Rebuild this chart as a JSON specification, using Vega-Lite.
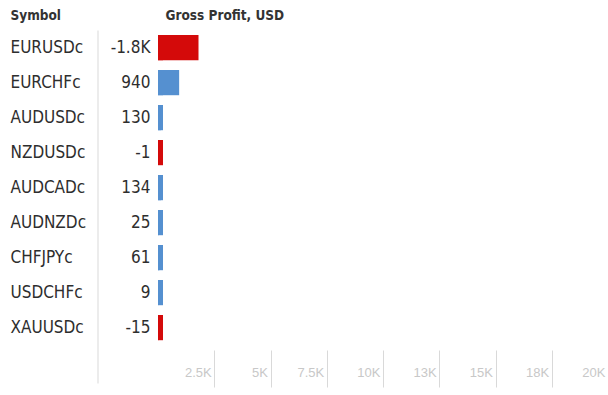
{
  "$schema": "https://vega.github.io/schema/vega-lite/v6.json",
  "autosize": {"type": "none"},
  "padding": {"left": 158, "top": 30, "right": 0, "bottom": 12},
  "width": 450,
  "height": 353,
  "background": "white",
  "config": {"view": {"stroke": null}, "font": "DejaVu Sans Condensed"},
  "data": {
    "values": [
      {"symbol": "EURUSDc", "profit": -1800},
      {"symbol": "EURCHFc", "profit": 940},
      {"symbol": "AUDUSDc", "profit": 130},
      {"symbol": "NZDUSDc", "profit": -1},
      {"symbol": "AUDCADc", "profit": 134},
      {"symbol": "AUDNZDc", "profit": 25},
      {"symbol": "CHFJPYc", "profit": 61},
      {"symbol": "USDCHFc", "profit": 9},
      {"symbol": "XAUUSDc", "profit": -15}
    ]
  },
  "transform": [
    {"calculate": "abs(datum.profit)", "as": "size"},
    {"calculate": "replace(replace(abs(datum.profit) >= 1000 ? format(datum.profit, '.2~s') : format(datum.profit, 'd'), 'k', 'K'), '\u2212', '-')", "as": "label"}
  ],
  "encoding": {
    "y": {
      "field": "symbol",
      "type": "nominal",
      "sort": null,
      "scale": {"paddingInner": 0.28, "paddingOuter": 0.683, "align": 0.105},
      "axis": {
        "orient": "left",
        "offset": 60.5,
        "domain": true,
        "domainColor": "#d9d9d9",
        "ticks": false,
        "labelAlign": "left",
        "labelPadding": 87.5,
        "labelFont": "DejaVu Sans Condensed",
        "labelFontSize": 17,
        "labelColor": "#2e2e2e",
        "title": "Symbol",
        "titleAngle": 0,
        "titleAlign": "left",
        "titleBaseline": "middle",
        "titleX": -87.5,
        "titleY": -15,
        "titleFont": "DejaVu Sans Condensed",
        "titleFontSize": 13.5,
        "titleFontWeight": "bold",
        "titleColor": "#333333"
      }
    }
  },
  "layer": [
    {
      "mark": {"type": "rule", "color": "#d9d9d9", "strokeWidth": 1},
      "encoding": {"x": {"datum": 0}}
    },
    {
      "mark": {"type": "bar", "x2Offset": 5},
      "encoding": {
        "x": {"datum": 0, "type": "quantitative"},
        "x2": {"datum": 0},
        "color": {"condition": {"test": "datum.profit < 0", "value": "#d40a0a"}, "value": "#5590d0"}
      }
    },
    {
      "mark": {"type": "bar"},
      "encoding": {
        "x": {
          "field": "size",
          "type": "quantitative",
          "scale": {"domain": [0, 20000], "nice": false, "zero": true},
          "axis": {
            "orient": "bottom",
            "offset": -33,
            "values": [2500, 5000, 7500, 10000, 12500, 15000, 17500, 20000],
            "labelExpr": "replace(format(datum.value, '.2~s'), 'k', 'K')",
            "domain": false,
            "grid": false,
            "ticks": true,
            "tickSize": 37,
            "tickColor": "#d9d9d9",
            "labelAlign": "right",
            "labelBaseline": "middle",
            "labelPadding": -15,
            "labelOffset": -3,
            "labelFont": "Liberation Sans",
            "labelFontSize": 13,
            "labelColor": "#c8c8c8",
            "labelFlush": false,
            "labelOverlap": false,
            "title": "Gross Profit, USD",
            "titleX": 7,
            "titleY": -335,
            "titleAlign": "left",
            "titleBaseline": "middle",
            "titleAngle": 0,
            "titleFont": "DejaVu Sans Condensed",
            "titleFontSize": 13.5,
            "titleFontWeight": "bold",
            "titleColor": "#333333"
          }
        },
        "color": {"condition": {"test": "datum.profit < 0", "value": "#d40a0a"}, "value": "#5590d0"}
      }
    },
    {
      "mark": {"type": "text", "align": "right", "baseline": "middle", "dx": -7.5, "fontSize": 17, "font": "DejaVu Sans Condensed", "color": "#2e2e2e"},
      "encoding": {
        "x": {"datum": 0, "type": "quantitative"},
        "text": {"field": "label"}
      }
    }
  ]
}
